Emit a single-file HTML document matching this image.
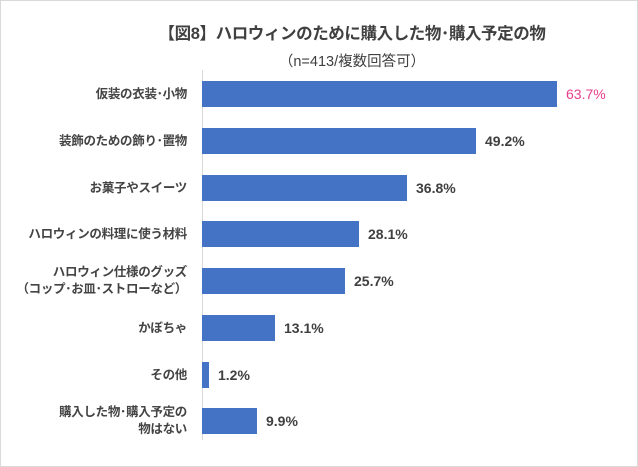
<!DOCTYPE html>
<html><head><meta charset="utf-8"><style>
body{margin:0;width:638px;height:467px;background:#fff;overflow:hidden;font-family:"Liberation Sans","Noto Sans CJK JP",sans-serif;color:#404040}
.frame{position:absolute;left:0;top:0;width:636px;height:465px;border:1px solid #d9d9d9}
.t{position:absolute;white-space:nowrap}
.bar{position:absolute;left:202px;height:26px;background:#4472c4}
.lab{position:absolute;right:451px;font-size:12.5px;text-align:right;line-height:17px;font-weight:bold;letter-spacing:-0.3px;color:#444}
.val{position:absolute;font-size:14px;font-weight:bold}
</style></head><body>
<div class="frame"></div>
<div class="t" style="left:0;width:704px;text-align:center;top:20px;font-size:16.5px;font-weight:bold;letter-spacing:-0.4px">【図8】ハロウィンのために購入した物･購入予定の物</div>
<div class="t" style="left:0;width:704px;text-align:center;top:50px;font-size:14.5px">（n=413/複数回答可）</div>
<div style="position:absolute;left:202px;top:70px;width:1px;height:370px;background:#d9d9d9"></div>

<div class="bar" style="top:81px;width:355px"></div>
<div class="bar" style="top:128px;width:274px"></div>
<div class="bar" style="top:175px;width:205px"></div>
<div class="bar" style="top:221px;width:157px"></div>
<div class="bar" style="top:268px;width:143px"></div>
<div class="bar" style="top:315px;width:73px"></div>
<div class="bar" style="top:362px;width:7px"></div>
<div class="bar" style="top:408px;width:55px"></div>

<div class="lab" style="top:86px">仮装の衣装･小物</div>
<div class="lab" style="top:133px">装飾のための飾り･置物</div>
<div class="lab" style="top:180px">お菓子やスイーツ</div>
<div class="lab" style="top:226px">ハロウィンの料理に使う材料</div>
<div class="lab" style="top:264px">ハロウィン仕様のグッズ<br>（コップ･お皿･ストローなど）</div>
<div class="lab" style="top:320px">かぼちゃ</div>
<div class="lab" style="top:367px">その他</div>
<div class="lab" style="top:404px">購入した物･購入予定の<br>物はない</div>

<div class="val" style="left:566px;top:86px;color:#e83e8c;font-weight:normal">63.7%</div>
<div class="val" style="left:485px;top:133px">49.2%</div>
<div class="val" style="left:416px;top:180px">36.8%</div>
<div class="val" style="left:368px;top:226px">28.1%</div>
<div class="val" style="left:354px;top:273px">25.7%</div>
<div class="val" style="left:284px;top:320px">13.1%</div>
<div class="val" style="left:218px;top:367px">1.2%</div>
<div class="val" style="left:266px;top:413px">9.9%</div>
</body></html>
